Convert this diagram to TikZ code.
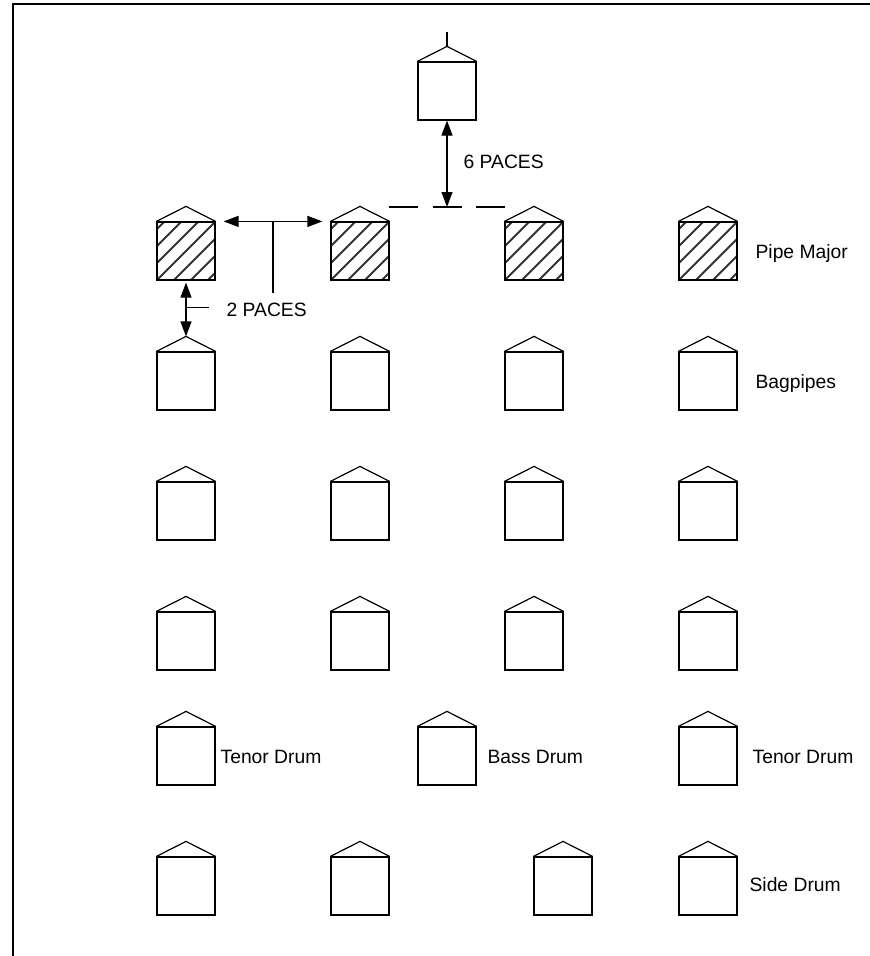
\documentclass[tikz,border=0pt]{standalone}
\usepackage{fontspec}
\setmainfont{Liberation Sans}
\usetikzlibrary{arrows.meta,positioning}

\begin{document}
\begin{tikzpicture}[x=1pt,y=-1pt,line width=1.2pt,
  font=\fontsize{19.3}{23}\selectfont,
  player/.style={draw, minimum width=58pt, minimum height=58pt, inner sep=0pt},
  piper/.style={player, path picture={
      \foreach \k in {-68,-51,...,68}
        \draw[line width=2pt, black!80]
          ([xshift=\k pt]path picture bounding box.south west) -- ++(70pt,70pt);}},
  pace/.style={{Triangle[length=15pt,width=11pt]}-{Triangle[length=15pt,width=11pt]}},
  lab/.style={anchor=west, inner sep=0pt, text height=14pt, text depth=0pt}]
  \useasboundingbox (0,0) rectangle (870,956);
  % frame
  \draw[line width=1.5pt] (13,956) -- (13,4) -- (870,4);

  % drum major
  \node[player] (dm) at (447,91) {};
  \draw ([yshift=14pt]dm.north) -- ++(0,-15);

  % pipe major row and bagpipes
  \foreach \x [count=\i] in {186,360,534,708} {
    \node[piper] (p\i) at (\x,251) {};
    \foreach \y/\r in {381/1,511/2,641/3}
      \node[player] (b\r\i) at (\x,\y) {};
  }

  % drums
  \node[player] (t1) at (186,756) {};
  \node[player] (bd) at (447,756) {};
  \node[player] (t2) at (708,756) {};
  \foreach \x [count=\i] in {186,360,563,708}
    \node[player] (s\i) at (\x,886) {};

  % roofs
  \foreach \n in {dm,p1,p2,p3,p4,b11,b12,b13,b14,b21,b22,b23,b24,
                  b31,b32,b33,b34,t1,bd,t2,s1,s2,s3,s4}
    \draw (\n.north west) -- ([yshift=15pt]\n.north) -- (\n.north east);

  % front line and 6 paces
  \coordinate (fl) at (389,207);
  \coordinate (fr) at (505,207);
  \coordinate (front) at (447,207);
  \draw[dash pattern=on 29pt off 14.5pt] (fl) -- (fr);
  \draw[pace] (dm.south) -- (front);
  \node[lab] (six) at (463,161) {6 PACES};

  % 2 paces
  \draw[pace] ([xshift=8pt]p1.north east) -- ([xshift=-8pt]p2.north west)
    coordinate[pos=.5] (gap);
  \draw (gap) -- ++(0,72);
  \draw[pace] ([yshift=-2pt]p1.south) -- ([yshift=15pt]b11.north)
    coordinate[pos=.46] (tick);
  \draw (tick) -- ++(23,0);
  \node[lab] (two) at (226,309) {2 PACES};

  % labels
  \node[lab] at (755,251) {Pipe Major};
  \node[lab] at (755,381) {Bagpipes};
  \node[lab] at (220,756) {Tenor Drum};
  \node[lab] at (487,756) {Bass Drum};
  \node[lab] at (752,756) {Tenor Drum};
  \node[lab] at (749,884) {Side Drum};
\end{tikzpicture}
\end{document}
